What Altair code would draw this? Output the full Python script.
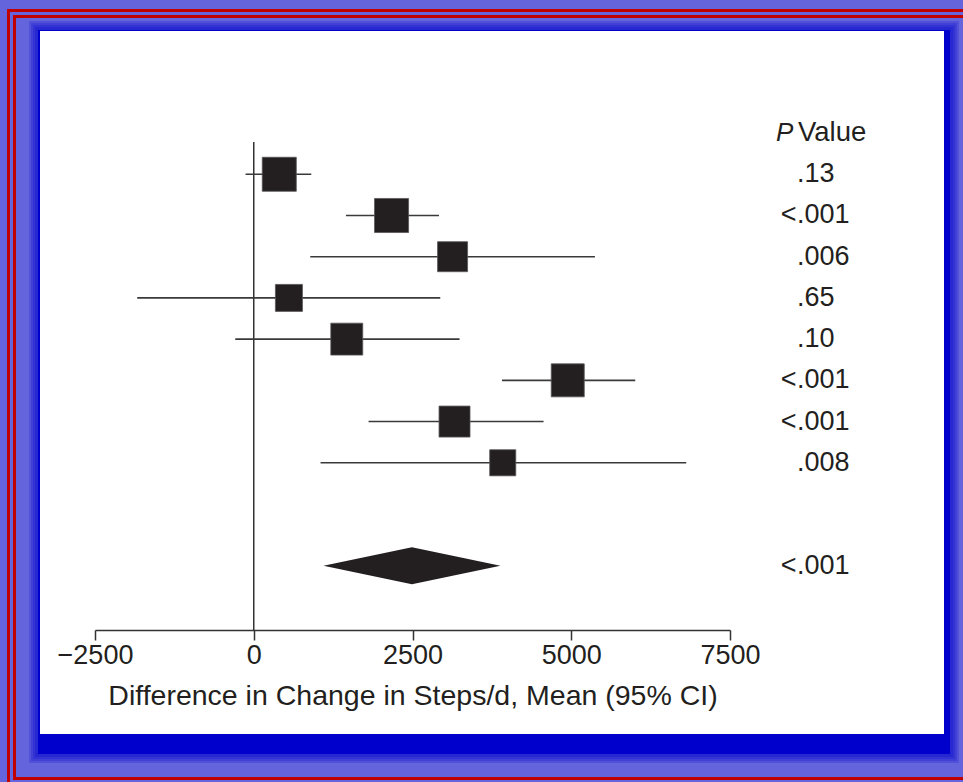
import altair as alt
import pandas as pd

# ---- data ----
rows = [1, 2, 3, 4, 5, 6, 7, 8]
mean_steps = [402, 2170, 3131, 554, 1465, 4945, 3162, 3921]
ci_low = [-129, 1452, 890, -1835, -291, 3909, 1808, 1052]
ci_high = [906, 2917, 5373, 2937, 3241, 6008, 4564, 6811]
weights = [11.6, 11.6, 9.0, 7.3, 10.2, 10.9, 9.6, 6.8]
p_values = [".13", "<.001", ".006", ".65", ".10", "<.001", "<.001", ".008"]
pooled_row = 10.5
pooled_mean = 2491
pooled_low = 1098
pooled_high = 3885
pooled_p = "<.001"
header_row = 0
x_ticks = [-2500, 0, 2500, 5000, 7500]
x_title = "Difference in Change in Steps/d, Mean (95% CI)"

# ---- layout / style ----
W, H = 635, 488
PL, PT = 95, 142
CW, CH = 963, 782
INK = "#231f20"
FONT = "Liberation Sans"
PERI = "#6464dc"
DARK = "#0000cc"
RED = "#c00000"

studies = pd.DataFrame({"row": rows, "mean": mean_steps, "lo": ci_low,
                        "hi": ci_high, "w": weights})
pv = pd.DataFrame({"row": rows + [pooled_row], "p": p_values + [pooled_p]})
pv["num"] = pv["p"].str.replace("<", "", regex=False)
pv["lt"] = pv["p"].apply(lambda s: "<" if s.startswith("<") else "")
lt_df = pv[pv["lt"] != ""]

half = 0.449  # diamond half-height in row units
diamond = pd.DataFrame({"x": [pooled_low, pooled_mean, pooled_high],
                        "y1": [pooled_row, pooled_row - half, pooled_row],
                        "y2": [pooled_row, pooled_row + half, pooled_row]})

xscale = alt.Scale(domain=[-2500, 7500], nice=False, zero=False)
yscale = alt.Scale(domain=[0.217, 12.057], nice=False, zero=False, reverse=True)
xaxis = alt.Axis(values=x_ticks, format="d", title=x_title, grid=False, zindex=2,
                 domainColor="#333333", domainWidth=1.5, tickColor="#333333",
                 tickWidth=1.5, tickSize=10, labelPadding=2, labelFontSize=27,
                 labelFont=FONT, labelColor=INK, labelFlush=False,
                 labelOverlap=False, titleFont=FONT, titleFontSize=28.5,
                 titleFontWeight="normal", titleColor=INK, titlePadding=13)


def X(field):
    return alt.X(field, type="quantitative", scale=xscale, axis=xaxis)


def Y(field):
    return alt.Y(field, type="quantitative", scale=yscale, axis=None)


one = alt.Data(values=[{"a": 1}])


def rect(x1, y1, x2, y2, **kw):
    return alt.Chart(one).mark_rect(**kw).encode(
        x=alt.value(x1 - PL), x2=alt.value(x2 - PL),
        y=alt.value(y1 - PT), y2=alt.value(y2 - PT))


deco = []
# red frames
deco.append(rect(8.5, 10.5, 1000, 820, fill="transparent", stroke=RED, strokeWidth=3))
deco.append(rect(14.5, 16.5, 1000, 778.5, fill="transparent", stroke=RED, strokeWidth=3))
# blurred drop shadow
for e in [9, 7, 5, 3]:
    deco.append(rect(38 - e, 30 - e, 950 + e, 754 + e, fill=DARK, opacity=0.2))
deco.append(rect(38, 30, 950, 754, fill=DARK))
# white panel
deco.append(rect(40, 31, 944, 734, fill="white"))

zero_line = alt.Chart(one).mark_rule(color="#333333", strokeWidth=1.5).encode(
    x=alt.X(datum=0, type="quantitative", scale=xscale, axis=xaxis))

ci = alt.Chart(studies).mark_rule(color="#3a3a3a", strokeWidth=1.6).encode(
    x=X("lo"), x2="hi", y=Y("row"))

squares = alt.Chart(studies).mark_square(
    fill=INK, stroke="#5a5758", strokeWidth=0.8, opacity=1).encode(
    x=X("mean"), y=Y("row"),
    size=alt.Size("w:Q", scale=alt.Scale(domain=[0, 10], range=[0, 1000]),
                  legend=None))

diam = alt.Chart(diamond).mark_area(color=INK, opacity=1).encode(
    x=X("x"), y=Y("y1"), y2="y2")

TX = 797 - PL
num_text = alt.Chart(pv).mark_text(
    align="left", baseline="middle", font=FONT, fontSize=27, color=INK).encode(
    x=alt.value(TX), y=Y("row"), text="num:N")
lt_text = alt.Chart(lt_df).mark_text(
    align="right", baseline="middle", font=FONT, fontSize=27, color=INK).encode(
    x=alt.value(TX - 0.5), y=Y("row"), text="lt:N")

hdr = pd.DataFrame({"row": [header_row], "p": ["P"], "v": ["Value"]})
hdr_p = alt.Chart(hdr).mark_text(
    align="left", baseline="middle", font=FONT, fontSize=26, fontStyle="italic",
    color=INK).encode(x=alt.value(776 - PL), y=Y("row"), text="p:N")
hdr_v = alt.Chart(hdr).mark_text(
    align="left", baseline="middle", font=FONT, fontSize=27.5, color=INK).encode(
    x=alt.value(798 - PL), y=Y("row"), text="v:N")

chart = alt.layer(
    *deco, zero_line, ci, squares, diam, num_text, lt_text, hdr_p, hdr_v
).properties(
    width=W, height=H, autosize="none",
    padding={"left": PL, "top": PT, "right": CW - PL - W, "bottom": CH - PT - H},
).configure(background=PERI).configure_view(stroke=None)

chart.save("out.html", embed_options={"renderer": "svg", "actions": False})
